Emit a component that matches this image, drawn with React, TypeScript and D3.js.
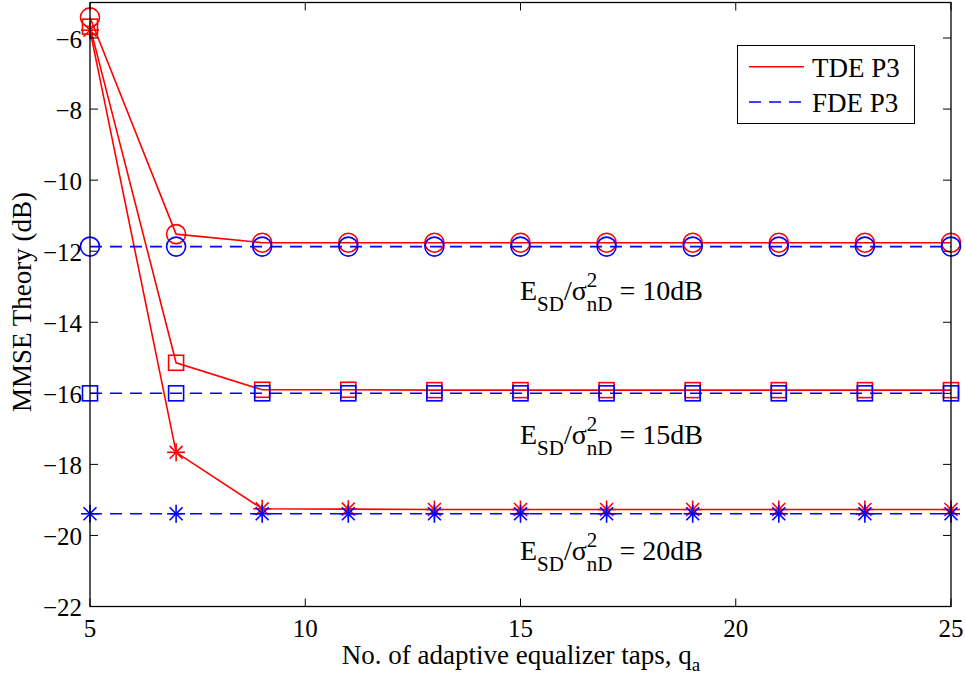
import React from "react";
import * as d3 from "d3";

const taps = [5, 7, 9, 11, 13, 15, 17, 19, 21, 23, 25];
const tde10 = [-5.42, -11.52, -11.76, -11.76, -11.76, -11.76, -11.76, -11.76, -11.76, -11.76, -11.76];
const tde15 = [-5.68, -15.14, -15.9, -15.9, -15.91, -15.91, -15.91, -15.91, -15.91, -15.91, -15.91];
const tde20 = [-5.78, -17.66, -19.25, -19.26, -19.27, -19.27, -19.27, -19.27, -19.27, -19.27, -19.27];
const fde10 = [-11.87, -11.87, -11.87, -11.87, -11.87, -11.87, -11.87, -11.87, -11.87, -11.87, -11.87];
const fde15 = [-16.0, -16.0, -16.0, -16.0, -16.0, -16.0, -16.0, -16.0, -16.0, -16.0, -16.0];
const fde20 = [-19.39, -19.39, -19.39, -19.39, -19.39, -19.39, -19.39, -19.39, -19.39, -19.39, -19.39];
const xTicks = [5, 10, 15, 20, 25];
const yTicks = [-22, -20, -18, -16, -14, -12, -10, -8, -6];
const snrLabels = [
  { snr: "10dB", y: -13.37 },
  { snr: "15dB", y: -17.42 },
  { snr: "20dB", y: -20.7 },
];

const series = [
  { vals: tde10, color: "#ff0000", dash: "", marker: "circle" },
  { vals: tde15, color: "#ff0000", dash: "", marker: "square" },
  { vals: tde20, color: "#ff0000", dash: "", marker: "star" },
  { vals: fde10, color: "#0000ff", dash: "12,8", marker: "circle" },
  { vals: fde15, color: "#0000ff", dash: "12,8", marker: "square" },
  { vals: fde20, color: "#0000ff", dash: "12,8", marker: "star" },
];

const W = 965, H = 684;
const L = 90, R = 951, T = 2.5, B = 606.5;

export default function App() {
  const x = d3.scaleLinear().domain([5, 25]).range([L, R]);
  const y = d3.scaleLinear().domain([-22, -5]).range([B, T]);
  const line = d3.line<number>().x((_, i) => x(taps[i])).y((v) => y(v));
  const font = "Liberation Serif, Times New Roman, serif";

  const marker = (type: string, cx: number, cy: number, color: string, key: string) => {
    if (type === "circle") return <circle key={key} cx={cx} cy={cy} r={9.5} fill="none" stroke={color} strokeWidth={1.6} />;
    if (type === "square") return <rect key={key} x={cx - 7.5} y={cy - 7.5} width={15} height={15} fill="none" stroke={color} strokeWidth={1.6} />;
    const s = 9;
    const d = s * 0.72;
    return (
      <g key={key} stroke={color} strokeWidth={1.6}>
        <line x1={cx - s} y1={cy} x2={cx + s} y2={cy} />
        <line x1={cx} y1={cy - s} x2={cx} y2={cy + s} />
        <line x1={cx - d} y1={cy - d} x2={cx + d} y2={cy + d} />
        <line x1={cx - d} y1={cy + d} x2={cx + d} y2={cy - d} />
      </g>
    );
  };

  const labelX = x(15) - 0.5;

  return (
    <svg width={W} height={H} style={{ position: "absolute", left: 0, top: 0, background: "#fff" }} fontFamily={font}>
      <rect x={0} y={0} width={W} height={H} fill="#fff" />
      {series.map((s, si) => (
        <g key={si}>
          <path d={line(s.vals) || ""} fill="none" stroke={s.color} strokeWidth={1.6} strokeDasharray={s.dash} />
          {s.vals.map((v, i) => marker(s.marker, x(taps[i]), y(v), s.color, `${si}-${i}`))}
        </g>
      ))}
      <rect x={L} y={T} width={R - L} height={B - T} fill="none" stroke="#000" strokeWidth={1.3} />
      {xTicks.map((t) => (
        <g key={"x" + t}>
          <line x1={x(t)} x2={x(t)} y1={B} y2={B - 8} stroke="#000" strokeWidth={1} />
          <line x1={x(t)} x2={x(t)} y1={T} y2={T + 8} stroke="#000" strokeWidth={1} />
          <text x={x(t)} y={637} fontSize={25} textAnchor="middle">{t}</text>
        </g>
      ))}
      {yTicks.map((t) => (
        <g key={"y" + t}>
          <line x1={L} x2={L + 8} y1={y(t)} y2={y(t)} stroke="#000" strokeWidth={1} />
          <line x1={R} x2={R - 8} y1={y(t)} y2={y(t)} stroke="#000" strokeWidth={1} />
          <text x={82} y={y(t) + 9.5} fontSize={25} textAnchor="end">{"\u2212" + Math.abs(t)}</text>
        </g>
      ))}
      <text x={521} y={664} fontSize={27} textAnchor="middle">
        No. of adaptive equalizer taps, q<tspan fontSize={19} dy={7}>a</tspan>
      </text>
      <text transform={`translate(31, 302) rotate(-90)`} fontSize={27} textAnchor="middle">MMSE Theory (dB)</text>
      {snrLabels.map((l) => (
        <text key={l.snr} x={labelX} y={y(l.y)} fontSize={28}>
          E<tspan fontSize={21} dy={11}>SD</tspan>
          <tspan dy={-11}>/σ</tspan>
          <tspan fontSize={21} dy={-13}>2</tspan>
          <tspan fontSize={21} dx={-10.5} dy={24}>nD</tspan>
          <tspan dy={-11}>{" = " + l.snr}</tspan>
        </text>
      ))}
      <rect x={737.5} y={45.5} width={177} height={78} fill="#fff" stroke="#000" strokeWidth={1} />
      <line x1={749} x2={804} y1={66.7} y2={66.7} stroke="#ff0000" strokeWidth={1.6} />
      <text x={812} y={76.5} fontSize={27}>TDE P3</text>
      <line x1={749} x2={804} y1={102} y2={102} stroke="#0000ff" strokeWidth={1.6} strokeDasharray="12,8" />
      <text x={812} y={111.5} fontSize={27}>FDE P3</text>
    </svg>
  );
}
